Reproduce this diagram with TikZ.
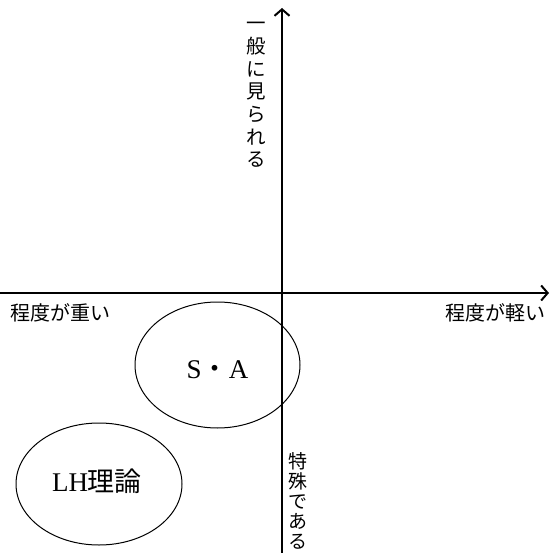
\documentclass[tikz,border=0pt]{standalone}
\usepackage{fontspec}
\setmainfont{Liberation Serif}
\newfontfamily\cjk{Noto Sans CJK JP}
\usetikzlibrary{arrows.meta}
\tikzset{
  axis/.style={line width=2pt, -{Straight Barb[length=6.5pt,width=15pt,line width=2pt]}},
  axlabel/.style={font=\cjk\fontsize{20}{22}\selectfont, inner sep=0pt},
  vlabel/.style={font=\cjk\fontsize{19.5}{22.7}\selectfont, align=center, inner sep=0pt, anchor=north},
  biglabel/.style={font=\fontsize{27}{30}\selectfont, inner sep=0pt}
}
\begin{document}
\begin{tikzpicture}[x=1pt,y=-1pt]
\useasboundingbox (0,0) rectangle (550,553);
% axes
\coordinate (L) at (0,293);
\coordinate (R) at (549,293);
\coordinate (B) at (282,553);
\coordinate (T) at (282,8);
\draw[axis] (L) -- (R);
\draw[axis] (B) -- (T);
% ellipses
\draw[line width=1pt] (217.5,365) ellipse [x radius=82.5, y radius=63];
\draw[line width=1pt] (99,484) ellipse [x radius=83, y radius=61];
\node[biglabel] (sa) at (217.5,370) {S{\cjk ・}A};
\node[biglabel] (lh) at (97,481) {LH{\cjk 理論}};
% labels
\node[axlabel] (heavy) at (60,313) {程度が重い};
\node[axlabel] (light) at (495,313) {程度が軽い};
\node[vlabel] (general) at (256,22) {一\\般\\に\\見\\ら\\れ\\る};
\node[vlabel, font=\cjk\fontsize{19}{20}\selectfont] (special) at (298,452) {特\\殊\\で\\あ\\る};
\end{tikzpicture}
\end{document}
